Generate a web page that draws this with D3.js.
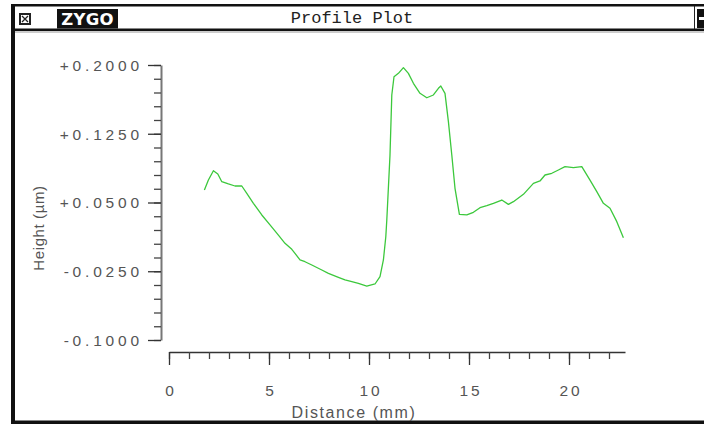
<!DOCTYPE html>
<html>
<head>
<meta charset="utf-8">
<script src="https://cdn.jsdelivr.net/npm/d3@7"></script>
<style>
  html, body { margin: 0; padding: 0; background: #fff; }
  svg { display: block; }
</style>
</head>
<body>
<svg id="chart" width="704" height="425"></svg>
<script>
// Surface profile trace: distance along the scan (mm) and measured height (µm)
const distanceMm = [
  1.77, 1.97, 2.22, 2.44, 2.64, 2.97, 3.30, 3.64, 3.89, 4.22,
  4.64, 5.05, 5.47, 5.80, 6.14, 6.30, 6.55, 6.80, 7.14, 7.64,
  7.97, 8.47, 8.80, 9.14, 9.47, 9.89, 10.30, 10.55, 10.72, 10.84,
  10.89, 11.05, 11.14, 11.25, 11.47, 11.72, 11.97, 12.22, 12.55, 12.89,
  13.22, 13.47, 13.59, 13.80, 13.97, 14.14, 14.30, 14.52, 14.89, 15.22,
  15.55, 15.89, 16.22, 16.64, 16.97, 17.22, 17.72, 18.22, 18.55, 18.80,
  19.14, 19.47, 19.80, 20.22, 20.64, 21.05, 21.39, 21.72, 22.05, 22.39,
  22.72
];
const heightUm = [
  0.0636, 0.0745, 0.0847, 0.0811, 0.0727, 0.0702, 0.0680, 0.0680, 0.0600, 0.0491,
  0.0364, 0.0255, 0.0145, 0.0055, -0.0011, -0.0055, -0.0127, -0.0146, -0.0182, -0.0236,
  -0.0273, -0.0316, -0.0345, -0.0364, -0.0382, -0.0411, -0.0389, -0.0309, -0.0127, 0.0127,
  0.0309, 0.1018, 0.1673, 0.1872, 0.1909, 0.1971, 0.1909, 0.1800, 0.1691, 0.1643,
  0.1673, 0.1746, 0.1771, 0.1691, 0.1382, 0.1018, 0.0655, 0.0371, 0.0364, 0.0393,
  0.0443, 0.0465, 0.0491, 0.0527, 0.0480, 0.0509, 0.0589, 0.0709, 0.0735, 0.0800,
  0.0819, 0.0855, 0.0891, 0.0880, 0.0891, 0.0745, 0.0618, 0.0491, 0.0437, 0.0291,
  0.0116
];

// Axis ticks
const yTickValues = [0.2, 0.125, 0.05, -0.025, -0.1];
const yTickLabels = ["+0.2000", "+0.1250", "+0.0500", "-0.0250", "-0.1000"];
const yMinorValues = d3.range(0, 21).map(i => -0.1 + i * 0.015);
const xTickValues = [0, 5, 10, 15, 20];
const xTickLabels = ["0", "5", "10", "15", "20"];
const xMinorValues = d3.range(0, 23);

const windowTitle = "Profile Plot";
const logoText = "ZYGO";
const xTitle = "Distance (mm)";
const yTitle = "Height (µm)";

const svg = d3.select("#chart");
const W = 704, H = 425;

// ---- window frame ----
svg.append("rect").attr("x", 0).attr("y", 0).attr("width", W).attr("height", H).attr("fill", "#fff");
// outer border
svg.append("rect").attr("x", 11).attr("y", 4).attr("width", 4).attr("height", 420).attr("fill", "#111");
svg.append("rect").attr("x", 11).attr("y", 4).attr("width", W - 11).attr("height", 2.5).attr("fill", "#111");
svg.append("rect").attr("x", 11).attr("y", 420.5).attr("width", W - 11).attr("height", 3.5).attr("fill", "#111");
// title bar underline
svg.append("rect").attr("x", 11).attr("y", 28.5).attr("width", W - 11).attr("height", 2.5).attr("fill", "#111");
svg.append("line").attr("x1", 15).attr("x2", W).attr("y1", 32).attr("y2", 32).attr("stroke", "#999").attr("stroke-width", 1);

// close box icon
const icon = svg.append("g").attr("transform", "translate(19,13)");
icon.append("rect").attr("width", 12).attr("height", 12).attr("fill", "#222");
icon.append("rect").attr("x", 2).attr("y", 2).attr("width", 8).attr("height", 8).attr("fill", "#fff");
icon.append("path").attr("d", "M3,3L9,9M9,3L3,9").attr("stroke", "#222").attr("stroke-width", 1.3);

// logo block
svg.append("rect").attr("x", 57).attr("y", 9).attr("width", 61).attr("height", 19.5).attr("fill", "#111");
svg.append("text").attr("x", 87.5).attr("y", 24.5).attr("text-anchor", "middle")
  .attr("font-family", "DejaVu Sans, sans-serif").attr("font-weight", "bold")
  .attr("font-size", 16.5).attr("letter-spacing", 0.3).attr("fill", "#fff").text(logoText);

// title
svg.append("text").attr("x", 352).attr("y", 23).attr("text-anchor", "middle")
  .attr("font-family", "Liberation Mono, Courier New, monospace")
  .attr("font-size", 17).attr("fill", "#222").text(windowTitle);

// right title-bar control
svg.append("line").attr("x1", 694.5).attr("x2", 694.5).attr("y1", 6).attr("y2", 29).attr("stroke", "#222").attr("stroke-width", 1);
svg.append("rect").attr("x", 697).attr("y", 9).attr("width", 7).attr("height", 19).attr("fill", "#111");
svg.append("rect").attr("x", 699).attr("y", 17).attr("width", 5).attr("height", 3).attr("fill", "#fff");

// ---- scales ----
const x = d3.scaleLinear().domain([0, 22.8]).range([169, 625]);
const y = d3.scaleLinear().domain([-0.1, 0.2]).range([340, 65]);

const tickFont = "Liberation Sans, Arial, sans-serif";

// ---- y axis ----
const yAxisX = 161;
const yMinor = svg.append("g").attr("transform", `translate(${yAxisX},0)`)
  .call(d3.axisLeft(y).tickValues(yMinorValues).tickSize(7).tickSizeOuter(0).tickFormat(""));
yMinor.select(".domain").attr("stroke", "#777").attr("stroke-width", 2);
yMinor.selectAll(".tick line").attr("stroke", "#444").attr("stroke-width", 1.3);

const yMajor = svg.append("g").attr("transform", `translate(${yAxisX},0)`)
  .call(d3.axisLeft(y).tickValues(yTickValues).tickSize(13).tickSizeOuter(0).tickPadding(9)
    .tickFormat((d, i) => yTickLabels[i]));
yMajor.select(".domain").remove();
yMajor.selectAll(".tick line").attr("stroke", "#333").attr("stroke-width", 1.3);
yMajor.selectAll(".tick text")
  .attr("font-family", tickFont).attr("font-size", 15.5).attr("letter-spacing", 3.8)
  .attr("fill", "#555").attr("dx", "3.8").attr("dy", "0.34em");

// ---- x axis ----
const xAxisY = 352;
const xMinor = svg.append("g").attr("transform", `translate(0,${xAxisY})`)
  .call(d3.axisBottom(x).tickValues(xMinorValues).tickSize(7).tickSizeOuter(0).tickFormat(""));
xMinor.select(".domain").attr("stroke", "#333").attr("stroke-width", 1.6);
xMinor.selectAll(".tick line").attr("stroke", "#444").attr("stroke-width", 1.3);

const xMajor = svg.append("g").attr("transform", `translate(0,${xAxisY})`)
  .call(d3.axisBottom(x).tickValues(xTickValues).tickSize(13).tickSizeOuter(0).tickPadding(20)
    .tickFormat((d, i) => xTickLabels[i]));
xMajor.select(".domain").remove();
xMajor.selectAll(".tick line").attr("stroke", "#333").attr("stroke-width", 1.3);
xMajor.selectAll(".tick text")
  .attr("font-family", tickFont).attr("font-size", 15.5).attr("letter-spacing", 3)
  .attr("fill", "#555").attr("dx", "1.5");

// ---- axis titles ----
svg.append("text").attr("x", 354).attr("y", 418).attr("text-anchor", "middle")
  .attr("font-family", tickFont).attr("font-size", 16).attr("letter-spacing", 1.6)
  .attr("fill", "#555").text(xTitle);

svg.append("text").attr("transform", "translate(44,228) rotate(-90)").attr("text-anchor", "middle")
  .attr("font-family", tickFont).attr("font-size", 15).attr("letter-spacing", 0.6)
  .attr("fill", "#555").text(yTitle);

// ---- profile trace ----
const line = d3.line().x((d, i) => x(distanceMm[i])).y(d => y(d));
svg.append("path").datum(heightUm).attr("d", line)
  .attr("fill", "none").attr("stroke", "#3cc83c").attr("stroke-width", 1.3)
  .attr("stroke-linejoin", "round");
</script>
</body>
</html>
